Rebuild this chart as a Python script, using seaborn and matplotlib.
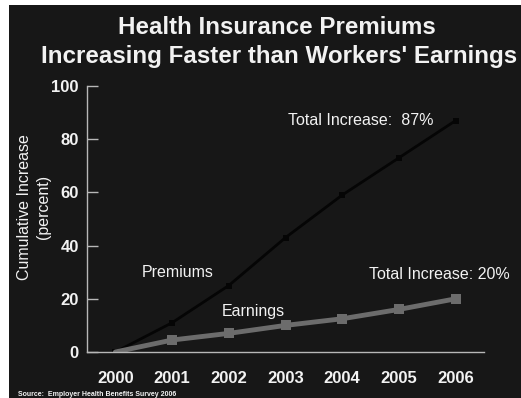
import matplotlib
matplotlib.use('Agg')

import matplotlib.pyplot as plt
import seaborn as sns
import pandas as pd
from matplotlib.patches import Rectangle

# data (cumulative increase since 2000, percent)
years = ['2000', '2001', '2002', '2003', '2004', '2005', '2006']
premiums = [0, 11, 25, 43, 59, 73, 87]
earnings = [0, 4.5, 7, 10, 12.5, 16, 20]
y_ticks = [0, 20, 40, 60, 80, 100]

bg = '#171717'
fg = '#f2f2f2'
axis_col = '#b8b8b8'

sns.set_style("dark")
plt.rcParams['font.family'] = ['Liberation Sans', 'DejaVu Sans']

df = pd.DataFrame({'idx': range(len(years)), 'Premiums': premiums, 'Earnings': earnings})

fig = plt.figure(figsize=(5.21, 3.98), dpi=100)
fig.patch.set_facecolor('white')
# dark slide area, thin white strip left and top as in the scan
fig.patches.append(Rectangle((9 / 521, 0), 1 - 9 / 521, 1 - 5 / 398,
                             transform=fig.transFigure, facecolor=bg,
                             edgecolor='none', zorder=-10))

ax = fig.add_axes([87 / 521, 1 - 352 / 398, (484 - 87) / 521, (352 - 86) / 398])
ax.set_facecolor('none')

sns.lineplot(data=df, x='idx', y='Premiums', ax=ax, color='#050505',
             linewidth=2, marker='s', markersize=4, markeredgewidth=0)
sns.lineplot(data=df, x='idx', y='Earnings', ax=ax, color='#6c6c6c',
             linewidth=3.5, marker='s', markersize=7, markeredgewidth=0,
             markevery=list(range(1, len(years))))

ax.set_xlim(-0.5, 6.5)
ax.set_ylim(0, 100)
ax.set_xlabel('')
ax.set_ylabel('')
ax.grid(False)

ax.set_xticks(range(len(years)))
ax.set_xticklabels(years, fontsize=12, color=fg, fontweight='bold')
ax.set_xticks([i + 0.5 for i in range(len(years))], minor=True)
ax.tick_params(axis='x', which='major', length=0, pad=14)
ax.tick_params(axis='x', which='minor', direction='in', length=7,
               width=1, color=axis_col)

ax.set_yticks(y_ticks)
ax.set_yticklabels([str(v) for v in y_ticks], fontsize=12, color=fg,
                   fontweight='bold')
ax.tick_params(axis='y', direction='in', length=8, width=1,
               color=axis_col, pad=6, left=True)

for side in ['top', 'right']:
    ax.spines[side].set_visible(False)
for side in ['left', 'bottom']:
    ax.spines[side].set_visible(True)
    ax.spines[side].set_color(axis_col)
    ax.spines[side].set_linewidth(1)

# annotations
ax.text(3.05, 87, 'Total Increase:  87%', fontsize=11.5, color=fg, va='center')
ax.text(0.47, 29.7, 'Premiums', fontsize=11.5, color=fg, va='center')
ax.text(1.88, 15.4, 'Earnings', fontsize=11.5, color=fg, va='center')
ax.text(4.47, 29.3, 'Total Increase: 20%', fontsize=11.5, color=fg, va='center')

# titles and labels
fig.text(0.532, 1 - 34 / 398, 'Health Insurance Premiums', fontsize=17.4,
         fontweight='bold', color=fg, ha='center', va='baseline')
fig.text(0.535, 1 - 63 / 398, "Increasing Faster than Workers' Earnings",
         fontsize=17.4, fontweight='bold', color=fg, ha='center', va='baseline')
fig.text(34 / 521, 1 - 207 / 398, 'Cumulative Increase\n(percent)',
         fontsize=11.5, color=fg, rotation=90, ha='center', va='center',
         multialignment='center', linespacing=1.25)
fig.text(18 / 521, 1 - 396 / 398, 'Source:  Employer Health Benefits Survey 2006',
         fontsize=5, fontweight='bold', color=fg, ha='left', va='baseline')

fig.savefig('out.png', dpi=100, facecolor=fig.get_facecolor())
